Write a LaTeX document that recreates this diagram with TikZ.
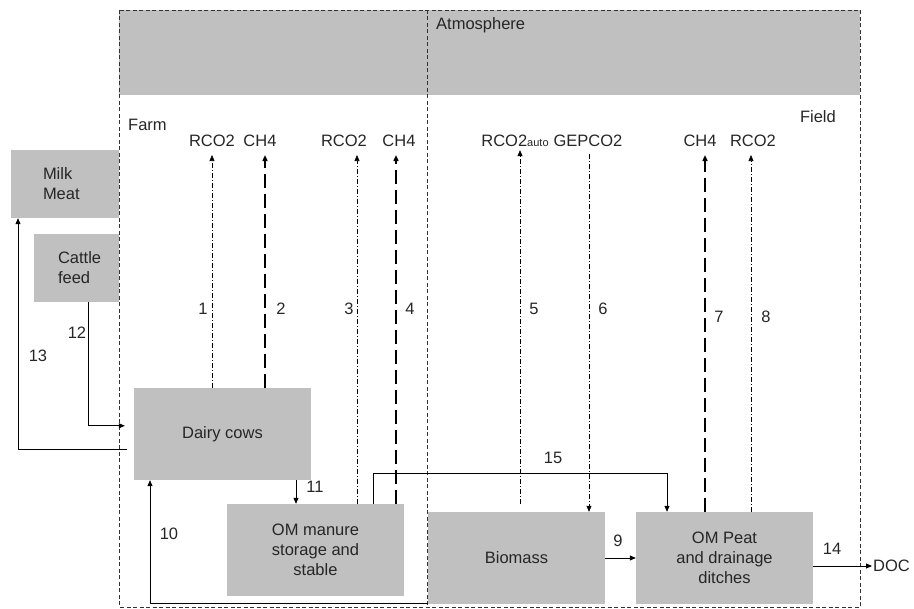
\documentclass[tikz,border=0pt]{standalone}
\usepackage{fontspec}
\setmainfont{Liberation Sans}
\usetikzlibrary{arrows.meta,calc}
\definecolor{boxgray}{HTML}{C0C0C0}
\begin{document}
\begin{tikzpicture}[x=1pt,y=-1pt,
  every node/.style={font=\fontsize{16.5}{20}\selectfont, text=black!85},
  box/.style={fill=boxgray, draw=none, minimum width=177pt, minimum height=92pt, align=center, inner sep=0pt},
  lbl/.style={inner sep=1pt},
  tip/.style={-{Triangle[length=6pt,width=5pt]}},
  co2line/.style={tip, line width=0.6pt, dash pattern=on 5pt off 2pt on 1pt off 2pt},
  ch4line/.style={tip, line width=2pt, dash pattern=on 14pt off 6pt},
  flow/.style={tip, line width=0.8pt},
  frame/.style={line width=0.6pt, draw=black!80, dash pattern=on 4pt off 2.5pt}
]
\useasboundingbox (0,0) rectangle (914,609);
% atmosphere band and frame
\fill[boxgray] (119,10) rectangle (860,95);
\draw[frame] (119,10) rectangle (860,607);
\draw[frame] (427,10) -- (427,607);
\node[lbl, anchor=west] (atm) at (435,25) {Atmosphere};
\node[lbl, anchor=west] (farm) at (127,125) {Farm};
\node[lbl, anchor=east] (field) at (837,117) {Field};

% boxes
\node[box, minimum width=108pt, minimum height=68pt, text width=44pt, inner xsep=32pt, align=left] (milk) at (65,184) {Milk\\Meat};
\node[box, minimum width=85pt, minimum height=68pt, text width=37pt, inner xsep=24pt, align=left] (cattle) at (76.5,268) {Cattle\\feed};
\node[box] (dairy) at (222.5,434) {Dairy cows};
\node[box] (manure) at (315.5,550) {OM manure\\storage and\\stable};
\node[box] (biomass) at (516.5,558) {Biomass};
\node[box] (peat) at (724.5,558) {OM Peat\\and drainage\\ditches};
\node[lbl, anchor=west] (doc) at (872,566) {DOC};

% gas labels
\node[lbl] (rco2a) at (212,141) {RCO2};
\node[lbl] (ch4a) at (260,141) {CH4};
\node[lbl] (rco2b) at (344,141) {RCO2};
\node[lbl] (ch4b) at (399,141) {CH4};
\node[lbl] (rauto) at (515,141) {RCO2\raisebox{-0.3pt}{\fontsize{11}{11}\selectfont auto}};
\node[lbl] (gep) at (588,141) {GEPCO2};
\node[lbl] (ch4c) at (700,141) {CH4};
\node[lbl] (rco2c) at (753,141) {RCO2};

% x positions of vertical fluxes
\coordinate (x1) at (212,0);
\coordinate (x2) at (265,0);
\coordinate (x3) at (357,0);
\coordinate (x4) at (396,0);
\coordinate (x5) at (520,0);
\coordinate (x6) at (589,0);
\coordinate (x7) at (705,0);
\coordinate (x8) at (751,0);
\coordinate (x10) at (150,0);
\coordinate (x11) at (296,0);
\coordinate (x12) at (88,0);
\coordinate (x13) at (18,0);
\coordinate (x15a) at (373,0);
\coordinate (x15b) at (667,0);
\coordinate (y15) at (0,473);

% vertical gas fluxes
\draw[co2line, shorten >=7pt] (dairy.north -| x1) -- (x1 |- rco2a.south);
\draw[ch4line, shorten >=7pt] (dairy.north -| x2) -- (x2 |- rco2a.south);
\draw[co2line, shorten >=7pt] (manure.north -| x3) -- (x3 |- rco2a.south);
\draw[ch4line, shorten >=7pt] (manure.north -| x4) -- (x4 |- rco2a.south);
\draw[co2line, shorten <=8pt, shorten >=2pt] (biomass.north -| x5) -- (x5 |- rauto.south);
\draw[co2line, shorten <=6pt] (x6 |- gep.south) -- (biomass.north -| x6);
\draw[ch4line, shorten >=7pt] (peat.north -| x7) -- (x7 |- rco2a.south);
\draw[co2line, shorten >=7pt] (peat.north -| x8) -- (x8 |- rco2a.south);

% numbers
\node[lbl] (n1) at (203,309) {1};
\node[lbl] (n2) at (281,309) {2};
\node[lbl] (n3) at (349,309) {3};
\node[lbl] (n4) at (410,309) {4};
\node[lbl] (n5) at (534,309) {5};
\node[lbl] (n6) at (603,309) {6};
\node[lbl] (n7) at (719,317) {7};
\node[lbl] (n8) at (766,317) {8};
\node[lbl] (n9) at (618,541) {9};
\node[lbl] (n10) at (169,534) {10};
\node[lbl] (n11) at (315,487) {11};
\node[lbl] (n12) at (77,333) {12};
\node[lbl] (n13) at (38,356) {13};
\node[lbl] (n14) at (832,549) {14};
\node[lbl] (n15) at (553,458) {15};

% material flows
\draw[flow] (cattle.south -| x12) |- ($(dairy.north west)+(-9,38)$);
\draw[flow] ($(dairy.south west)+(-7,-31)$) -| (milk.south -| x13);
\draw[flow] (dairy.south -| x11) -- (manure.north -| x11);
\draw[flow] ($(biomass.south west)+(0,-1)$) -| (dairy.south -| x10);
\draw[flow] (manure.north -| x15a) -- (x15a |- y15) -- (x15b |- y15) -- (peat.north -| x15b);
\draw[flow] (biomass.east) -- (peat.west);
\draw[flow] ($(peat.east)+(0,8)$) -- (doc.west);
\end{tikzpicture}
\end{document}
